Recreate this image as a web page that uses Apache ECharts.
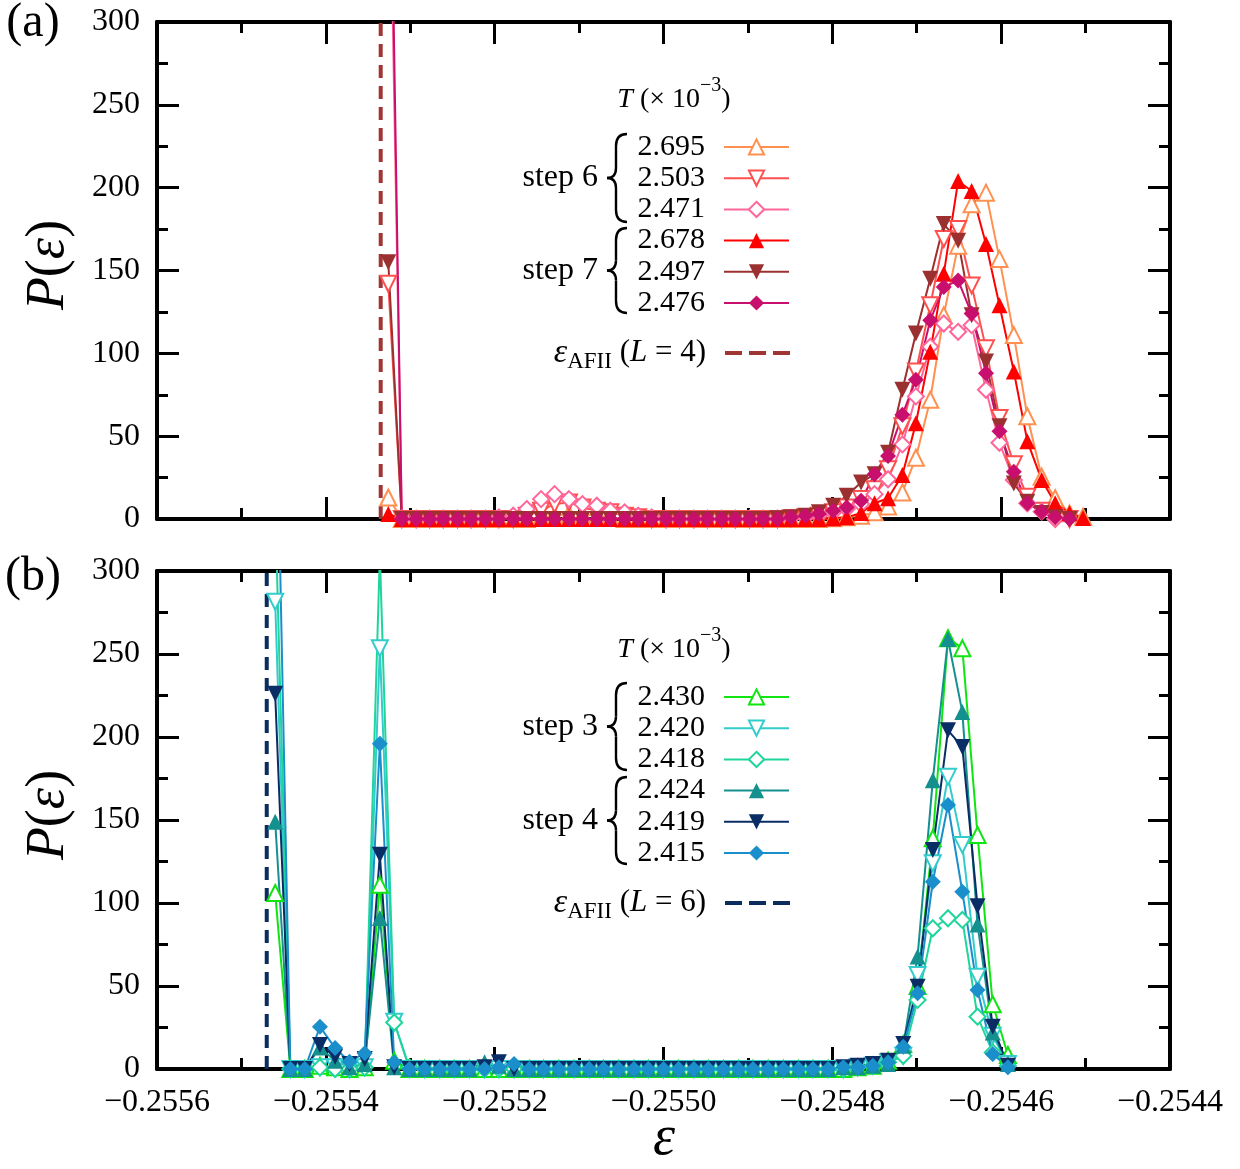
<!DOCTYPE html>
<html>
<head>
<meta charset="utf-8"/>
<title></title>
<script src="https://cdn.jsdelivr.net/npm/echarts@6/dist/echarts.min.js"></script>
<style>body{margin:0;background:#fff;}</style>
</head>
<body>
<div id="chart" style="width:1240px;height:1169px;"></div>
<script type="text/javascript">

// energy bins, panel (a) L=4 and panel (b) L=6
var epsGridA = [-0.255326, -0.255310, -0.255293, -0.255277, -0.255261, -0.255244, -0.255228, -0.255211, -0.255195, -0.255178,
    -0.255162, -0.255145, -0.255129, -0.255112, -0.255096, -0.255079, -0.255063, -0.255046, -0.255030, -0.255014,
    -0.254997, -0.254981, -0.254964, -0.254948, -0.254931, -0.254915, -0.254898, -0.254882, -0.254865, -0.254849,
    -0.254832, -0.254816, -0.254799, -0.254783, -0.254766, -0.254750, -0.254734, -0.254717, -0.254701, -0.254684,
    -0.254668, -0.254651, -0.254635, -0.254618, -0.254602, -0.254585, -0.254569, -0.254552, -0.254536, -0.254519,
    -0.254503];
var epsGridB = [-0.255460, -0.255442, -0.255425, -0.255407, -0.255389, -0.255372, -0.255354, -0.255336, -0.255319, -0.255301,
    -0.255283, -0.255265, -0.255248, -0.255230, -0.255212, -0.255195, -0.255177, -0.255159, -0.255142, -0.255124,
    -0.255106, -0.255088, -0.255071, -0.255053, -0.255035, -0.255018, -0.255000, -0.254982, -0.254964, -0.254947,
    -0.254929, -0.254911, -0.254894, -0.254876, -0.254858, -0.254840, -0.254823, -0.254805, -0.254787, -0.254770,
    -0.254752, -0.254734, -0.254716, -0.254699, -0.254681, -0.254663, -0.254646, -0.254628, -0.254610, -0.254592];

var afiiA = -0.255335;
var afiiB = -0.255470;

// panel (a): step 6
var pA695 = [13, 0, 0, 0, 0, 0, 0, 0, 0, 0,
    0, 1, 2, 3, 3, 2, 1, 0, 0, 0,
    0, 0, 0, 0, 0, 0, 0, 0, 0, 0,
    0, 0, 0.5, 1, 2, 4, 7.5, 16, 37, 72,
    123, 165, 190, 197, 157, 111, 62, 25.5, 12.5, 3.4,
    1.4];
var pA503 = [142, 0, 0, 0, 0, 0, 0, 0, 0, 0,
    2, 5, 9, 10, 7, 5, 4, 2, 1, 0,
    0, 0, 0, 0, 0, 0, 0, 0, 0, 0.5,
    1, 2, 4, 7, 12, 18, 30, 56, 89, 129,
    169, 175, 141, 103, 61, 33, 13.5, 5, 1.5, 0];
var pA471 = [450, 0, 0, 0, 0, 0, 0, 0, 1, 2,
    6, 12, 15, 12, 9, 8, 5, 4, 2, 1,
    0, 0, 0, 0, 0, 0, 0, 0, 0, 0.5,
    1, 2, 4, 6, 9, 15, 24, 45, 74, 104,
    118, 113, 117, 78, 46, 23.5, 9.5, 4.4, 0];
// panel (a): step 7
var pA678 = [3, 0, 0, 0, 0, 0, 0, 0, 0, 0,
    0, 0, 0, 0, 0, 0, 0, 0, 0, 0,
    0, 0, 0, 0, 0, 0, 0, 0, 0, 0,
    0, 0, 0.5, 1, 3.6, 9.5, 12.5, 26.6, 57.8, 101,
    148, 204, 198, 166, 129, 89, 47, 23.5, 9.5, 3.4,
    0.6];
var pA497 = [155, 0, 0, 0, 0, 0, 0, 0, 0, 0,
    0, 0, 0, 0, 0, 0, 0, 0, 0, 0,
    0, 0, 0, 0, 0, 0, 0, 0, 0.5, 1,
    2, 4, 8, 14, 22, 27, 40, 78, 112, 145,
    178, 168, 123, 95, 56, 21.5, 10.4, 3.6, 1, 0];
var pA476 = [500, 0, 0, 0, 0, 0, 0, 0, 0, 0,
    0, 0, 0, 0, 0, 0, 0, 0, 0, 0,
    0, 0, 0, 0, 0, 0, 0, 0, 0, 1,
    2, 3, 5, 7, 11, 27, 38, 63, 84, 120,
    140, 144, 124, 88, 53, 28.5, 9.5, 4.4, 1, 0];

// panel (b): step 3
var pB430 = [106, 0, 0, 2, 1, 0, 1, 111, 5, 0,
    0, 0, 0, 0, 0, 0, 0, 0, 0, 0,
    0, 0, 0, 0, 0, 0, 0, 0, 0, 0,
    0, 0, 0, 0, 0, 0, 0, 0, 0, 1,
    2, 5, 15, 50, 139, 259.5, 253.5, 141, 39, 8.4];
var pB420 = [281.5, 0, 0, 1, 1, 0, 1, 253.5, 28.5, 0,
    0, 0, 0, 0, 0, 0, 0, 0, 0, 0,
    0, 0, 0, 0, 0, 0, 0, 0, 0, 0,
    0, 0, 0, 0, 0, 0, 0, 0, 0, 1,
    2, 4, 8, 56.6, 124, 176, 135, 55.6, 20, 3];
var pB418 = [340, 0, 0, 1, 0, 0, 1, 310, 28, 1,
    0, 0, 0, 0, 0, 0, 0, 0, 0, 0,
    0, 0, 0, 0, 0, 0, 0, 0, 0, 0,
    0, 0, 0, 0, 0, 0, 0, 0, 0, 1,
    2, 4, 8, 41.6, 84.8, 90.8, 89.8, 31.5, 10, 2];
// panel (b): step 4
var pB424 = [149, 0, 0, 13, 5, 1, 3, 91, 1, 0,
    0, 0, 0, 0, 4, 2, 0, 0, 0, 0,
    0, 0, 0, 0, 0, 0, 0, 0, 0, 0,
    0, 0, 0, 0, 0, 0, 0, 0, 1, 1,
    2, 3, 14, 67.7, 174, 259, 215, 87, 22, 3];
var pB419 = [226, 0, 0, 14.5, 7.4, 3, 6, 129, 1, 0,
    0, 0, 0, 0, 1, 4, 0, 0, 0, 0,
    0, 0, 0, 0, 0, 0, 0, 0, 0, 0,
    0, 0, 0, 0, 0, 0, 0, 0, 1, 2,
    3, 5, 15, 49.6, 132, 204, 194, 98, 25.5, 2];
var pB415 = [450, 0, 0, 25.5, 12.6, 4.4, 9.5, 196, 4, 0,
    0, 0, 0, 0, 0, 1, 3, 0, 0, 0,
    0, 0, 0, 0, 0, 0, 0, 0, 0, 0,
    0, 0, 0, 0, 0, 0, 0, 0, 1, 1,
    2, 4, 13.4, 45.6, 112.8, 159, 106.8, 47.6, 9, 1];

var serif = 'Liberation Serif';

function mk(grid, vals) {
    var out = [];
    for (var i = 0; i < vals.length; i++) out.push([grid[i], vals[i]]);
    return out;
}

function curve(name, panel, grid, vals, color, symbol, rotate) {
    return {
        name: name, type: 'line',
        xAxisIndex: panel * 2, yAxisIndex: panel * 2,
        data: mk(grid, vals),
        symbol: symbol, symbolSize: 16, symbolRotate: rotate || 0,
        showAllSymbol: true,
        lineStyle: {color: color, width: 2},
        itemStyle: {color: color, borderWidth: 0},
        silent: true, animation: false
    };
}

function afiiLine(name, panel, x, color) {
    return {
        name: name, type: 'line',
        xAxisIndex: panel * 2, yAxisIndex: panel * 2,
        data: [[x, 0], [x, 300]],
        symbol: 'none',
        lineStyle: {color: color, width: 4, type: [13, 8]},
        itemStyle: {color: color},
        silent: true, animation: false
    };
}

function xAx(grid, pos, labels) {
    return {
        type: 'value', gridIndex: grid, position: pos,
        min: -0.2556, max: -0.2544, interval: 0.0002,
        axisLine: {show: true, onZero: false, lineStyle: {color: '#000', width: 4}},
        axisTick: {show: true, inside: true, length: 22, lineStyle: {color: '#000', width: 3}},
        minorTick: {show: true, splitNumber: 2, length: 11, lineStyle: {color: '#000', width: 3}},
        splitLine: {show: false},
        axisLabel: {
            show: labels, margin: 18, color: '#000', fontFamily: serif, fontSize: 32,
            formatter: function (v) { return '\u2212' + Math.abs(v).toFixed(4); }
        }
    };
}

function yAx(grid, pos, labels) {
    return {
        type: 'value', gridIndex: grid, position: pos,
        min: 0, max: 300, interval: 50,
        axisLine: {show: true, onZero: false, lineStyle: {color: '#000', width: 4}},
        axisTick: {show: true, inside: true, length: 22, lineStyle: {color: '#000', width: 3}},
        minorTick: {show: true, splitNumber: 2, length: 11, lineStyle: {color: '#000', width: 3}},
        splitLine: {show: false},
        axisLabel: {show: labels, margin: 17, color: '#000', fontFamily: serif, fontSize: 32}
    };
}

function tLegend(names, top) {
    return {
        data: names, orient: 'vertical', right: 450, top: top, align: 'right',
        padding: 0, itemWidth: 65, itemHeight: 19, itemGap: 1.2, selectedMode: false,
        textStyle: {color: '#000', fontFamily: serif, fontSize: 30, lineHeight: 30, padding: [0, 14, 0, 0]}
    };
}

// dashed sample for the AFII entries
var dashIcon = 'path://M0,0h17v4h-17z M24,0h17v4h-17z M48,0h17v4h-17z';

function afiiLegend(name, top, L) {
    return {
        data: [name], orient: 'vertical', right: 450, top: top, align: 'right',
        padding: 0, itemWidth: 65, itemHeight: 4, selectedMode: false,
        icon: dashIcon,
        formatter: function () { return '{e|\u03b5}{s|AFII}{n| (}{i|L}{n| = ' + L + ')}'; },
        textStyle: {
            color: '#000', fontFamily: serif, fontSize: 31, padding: [0, 14, 0, 0],
            rich: {
                e: {fontFamily: serif, fontSize: 34, fontStyle: 'italic', lineHeight: 40, color: '#000'},
                s: {fontFamily: serif, fontSize: 23, lineHeight: 20, verticalAlign: 'bottom', color: '#000'},
                n: {fontFamily: serif, fontSize: 31, lineHeight: 40, color: '#000'},
                i: {fontFamily: serif, fontSize: 31, fontStyle: 'italic', lineHeight: 40, color: '#000'}
            }
        }
    };
}

function txt(x, y, text, size, align, italic) {
    return {
        type: 'text', x: x, y: y, silent: true,
        style: {text: text, fill: '#000', font: (italic ? 'italic ' : '') + size + 'px "' + serif + '"',
            textAlign: align || 'center', textVerticalAlign: 'middle'}
    };
}

// curly brace built from curves and lines
function brace(top, bot) {
    var m = (top + bot) / 2;
    var st = {stroke: '#000', lineWidth: 2.4, fill: null};
    function q(x1, y1, cx, cy, x2, y2) {
        return {type: 'bezierCurve', silent: true, shape: {x1: x1, y1: y1, cpx1: cx, cpy1: cy, x2: x2, y2: y2}, style: st};
    }
    function ln(x1, y1, x2, y2) {
        return {type: 'line', silent: true, shape: {x1: x1, y1: y1, x2: x2, y2: y2}, style: st};
    }
    return {
        type: 'group', silent: true,
        children: [
            q(627, top, 616, top, 616, top + 12),
            ln(616, top + 12, 616, m - 10),
            q(616, m - 10, 616, m, 607, m),
            q(607, m, 616, m, 616, m + 10),
            ln(616, m + 10, 616, bot - 12),
            q(616, bot - 12, 616, bot, 627, bot)
        ]
    };
}

var titleRich = {
    i: {fontFamily: serif, fontSize: 28, fontStyle: 'italic', lineHeight: 48, fill: '#000'},
    n: {fontFamily: serif, fontSize: 28, lineHeight: 48, fill: '#000'},
    sup: {fontFamily: serif, fontSize: 20, lineHeight: 18, verticalAlign: 'top', fill: '#000'}
};
var pRich = {
    i: {fontFamily: serif, fontSize: 54, fontStyle: 'italic', fill: '#000'},
    n: {fontFamily: serif, fontSize: 54, fill: '#000'}
};

var graphics = [
    txt(33, 23, '(a)', 48),
    txt(33, 577, '(b)', 48),
    {type: 'text', x: 49, y: 265, rotation: Math.PI / 2, silent: true,
        style: {text: '{i|P}{n|(}{i|\u03b5}{n|)}', rich: pRich, textAlign: 'center', textVerticalAlign: 'middle'}},
    {type: 'text', x: 49, y: 815, rotation: Math.PI / 2, silent: true,
        style: {text: '{i|P}{n|(}{i|\u03b5}{n|)}', rich: pRich, textAlign: 'center', textVerticalAlign: 'middle'}},
    txt(664, 1139, '\u03b5', 56, 'center', true),
    {type: 'text', x: 674, y: 100, silent: true,
        style: {text: '{i|T}{n| (\u00d7 10}{sup|\u22123}{n|)}', rich: titleRich, textAlign: 'center', textVerticalAlign: 'middle'}},
    {type: 'text', x: 674, y: 650, silent: true,
        style: {text: '{i|T}{n| (\u00d7 10}{sup|\u22123}{n|)}', rich: titleRich, textAlign: 'center', textVerticalAlign: 'middle'}},
    txt(598, 178, 'step 6', 32, 'right'),
    txt(598, 271, 'step 7', 32, 'right'),
    txt(598, 727, 'step 3', 32, 'right'),
    txt(598, 821, 'step 4', 32, 'right'),
    brace(134, 222),
    brace(228, 313),
    brace(683, 770),
    brace(777, 864)
];

var chart = echarts.init(document.getElementById('chart'), null, {renderer: 'canvas'});
var option = {
    backgroundColor: '#fff',
    animation: false,
    grid: [
        {left: 157, top: 22, width: 1013, height: 497},
        {left: 157, top: 571, width: 1013, height: 498}
    ],
    xAxis: [xAx(0, 'bottom', false), xAx(0, 'top', false), xAx(1, 'bottom', true), xAx(1, 'top', false)],
    yAxis: [yAx(0, 'left', true), yAx(0, 'right', false), yAx(1, 'left', true), yAx(1, 'right', false)],
    legend: [
        tLegend(['2.695', '2.503', '2.471', '2.678', '2.497', '2.476'], 132),
        afiiLegend('afiiA', 336, 4),
        tLegend(['2.430', '2.420', '2.418', '2.424', '2.419', '2.415'], 682),
        afiiLegend('afiiB', 886, 6)
    ],
    series: [
        afiiLine('afiiA', 0, afiiA, '#a03535'),
        curve('2.695', 0, epsGridA, pA695, '#ff9050', 'emptyTriangle'),
        curve('2.503', 0, epsGridA, pA503, '#ff5050', 'emptyTriangle', 180),
        curve('2.471', 0, epsGridA, pA471, '#ff6699', 'emptyDiamond'),
        curve('2.678', 0, epsGridA, pA678, '#ff0000', 'triangle'),
        curve('2.497', 0, epsGridA, pA497, '#9b3030', 'triangle', 180),
        curve('2.476', 0, epsGridA, pA476, '#c80f6e', 'diamond'),
        afiiLine('afiiB', 1, afiiB, '#0a2d5e'),
        curve('2.430', 1, epsGridB, pB430, '#11e511', 'emptyTriangle'),
        curve('2.420', 1, epsGridB, pB420, '#33cccc', 'emptyTriangle', 180),
        curve('2.418', 1, epsGridB, pB418, '#1fd59b', 'emptyDiamond'),
        curve('2.424', 1, epsGridB, pB424, '#14918f', 'triangle'),
        curve('2.419', 1, epsGridB, pB419, '#0a2d66', 'triangle', 180),
        curve('2.415', 1, epsGridB, pB415, '#1b8fcc', 'diamond')
    ],
    graphic: graphics
};
chart.setOption(option);

</script>
</body>
</html>
